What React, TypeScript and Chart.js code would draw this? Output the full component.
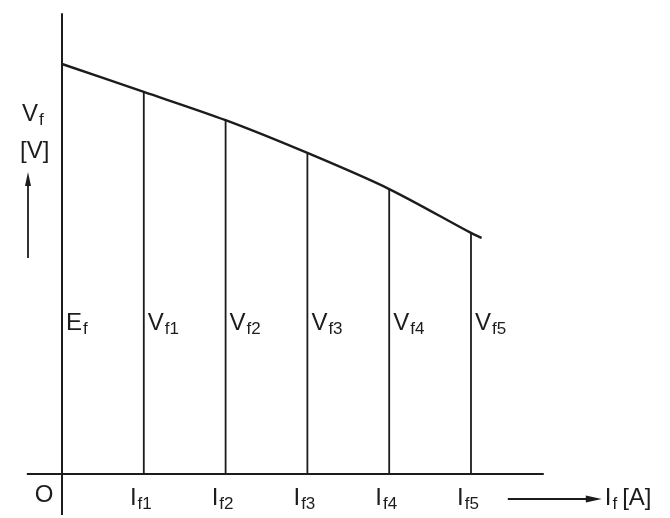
import { useEffect, useRef } from "react";
import { Chart, registerables } from "chart.js";

Chart.register(...registerables);

// Field current steps (0 = no-load point) and the terminal voltage read at each step
const fieldCurrents = [0, 1, 2, 3, 4, 5];
const terminalVoltages = [100, 93.2, 86.3, 78.3, 69.5, 58.8];
// The characteristic runs a little past the last step
const curveTail = { x: 5.13, y: 57.6 };

// Label text split into [main, subscript]
const voltageLabels: [string, string][] = [
  ["E", "f"],
  ["V", "f1"],
  ["V", "f2"],
  ["V", "f3"],
  ["V", "f4"],
  ["V", "f5"],
];
const currentLabels: [string, string][] = [
  ["I", "f1"],
  ["I", "f2"],
  ["I", "f3"],
  ["I", "f4"],
  ["I", "f5"],
];

// Axis extents in data units
const xAxisSpan = [-0.43, 5.89];
const yAxisSpan = [-10.0, 112.4];
const voltageLabelLevel = 35.1;

const INK = "#1c1c1c";
const FONT = "'Liberation Sans', Arial, sans-serif";
const MAIN_SIZE = 24;
const SUB_SIZE = 17;

function drawSubscripted(
  ctx: CanvasRenderingContext2D,
  main: string,
  sub: string,
  x: number,
  baseline: number,
  align: "left" | "center"
) {
  ctx.font = `${MAIN_SIZE}px ${FONT}`;
  const wMain = ctx.measureText(main).width;
  ctx.font = `${SUB_SIZE}px ${FONT}`;
  const wSub = ctx.measureText(sub).width;
  const total = wMain + 1 + wSub;
  const left = align === "left" ? x : x - total / 2;
  ctx.textAlign = "left";
  ctx.textBaseline = "alphabetic";
  ctx.font = `${MAIN_SIZE}px ${FONT}`;
  ctx.fillText(main, left, baseline);
  ctx.font = `${SUB_SIZE}px ${FONT}`;
  ctx.fillText(sub, left + wMain + 1, baseline + 4);
  return left + total;
}

const labelPlugin = {
  id: "diagramLabels",
  afterDatasetsDraw(chart: any) {
    const { ctx, scales } = chart;
    const xs = scales.x;
    const ys = scales.y;
    ctx.save();
    ctx.fillStyle = INK;
    ctx.strokeStyle = INK;

    // Voltage labels beside each ordinate
    const vy = ys.getPixelForValue(voltageLabelLevel);
    fieldCurrents.forEach((c, i) => {
      const px = xs.getPixelForValue(c);
      const [m, s] = voltageLabels[i];
      drawSubscripted(ctx, m, s, px + 4, vy, "left");
    });

    // Current labels under the abscissa
    const baseY = ys.getPixelForValue(0) + 31;
    fieldCurrents.slice(1).forEach((c, i) => {
      const px = xs.getPixelForValue(c);
      const [m, s] = currentLabels[i];
      drawSubscripted(ctx, m, s, px - 3, baseY, "center");
    });

    // Origin
    const ox = xs.getPixelForValue(0);
    ctx.font = `${MAIN_SIZE}px ${FONT}`;
    ctx.textAlign = "center";
    ctx.fillText("O", ox - 18, baseY - 3);

    // Vertical axis caption with upward arrow
    const capX = ox - 40;
    drawSubscripted(ctx, "V", "f", capX, 121, "left");
    ctx.font = `${MAIN_SIZE}px ${FONT}`;
    ctx.textAlign = "left";
    ctx.fillText("[V]", capX - 2, 158);

    ctx.lineWidth = 1.8;
    ctx.beginPath();
    ctx.moveTo(ox - 34, 258);
    ctx.lineTo(ox - 34, 182);
    ctx.stroke();
    ctx.beginPath();
    ctx.moveTo(ox - 34, 172);
    ctx.lineTo(ox - 37, 186);
    ctx.lineTo(ox - 31, 186);
    ctx.closePath();
    ctx.fill();

    // Horizontal axis caption with rightward arrow
    const ay = baseY - 6;
    const arrowStart = xs.getPixelForValue(xAxisSpan[1]) - 36;
    const arrowTip = arrowStart + 94;
    ctx.beginPath();
    ctx.moveTo(arrowStart, ay);
    ctx.lineTo(arrowTip - 12, ay);
    ctx.stroke();
    ctx.beginPath();
    ctx.moveTo(arrowTip, ay);
    ctx.lineTo(arrowTip - 16, ay - 3.5);
    ctx.lineTo(arrowTip - 16, ay + 3.5);
    ctx.closePath();
    ctx.fill();
    const after = drawSubscripted(ctx, "I", "f", arrowTip + 3, baseY, "left");
    ctx.font = `${MAIN_SIZE}px ${FONT}`;
    ctx.textAlign = "left";
    ctx.fillText("[A]", after + 5, baseY);

    ctx.restore();
  },
};

export default function App() {
  const canvasRef = useRef<HTMLCanvasElement | null>(null);

  useEffect(() => {
    const canvas = canvasRef.current;
    if (!canvas) return;

    const curve = fieldCurrents.map((c, i) => ({ x: c, y: terminalVoltages[i] }));
    curve.push(curveTail);

    const ordinates = fieldCurrents.slice(1).map((c, k) => ({
      data: [
        { x: c, y: 0 },
        { x: c, y: terminalVoltages[k + 1] },
      ],
      borderColor: INK,
      borderWidth: 1.8,
      showLine: true,
      pointRadius: 0,
      tension: 0,
    }));

    const chart = new Chart(canvas, {
      type: "scatter",
      data: {
        datasets: [
          {
            data: curve,
            borderColor: INK,
            borderWidth: 2.4,
            showLine: true,
            pointRadius: 0,
            tension: 0.3,
          } as any,
          ...ordinates,
          {
            // ordinate axis
            data: [
              { x: 0, y: yAxisSpan[0] },
              { x: 0, y: yAxisSpan[1] },
            ],
            borderColor: INK,
            borderWidth: 2,
            showLine: true,
            pointRadius: 0,
          },
          {
            // abscissa axis
            data: [
              { x: xAxisSpan[0], y: 0 },
              { x: xAxisSpan[1], y: 0 },
            ],
            borderColor: INK,
            borderWidth: 2,
            showLine: true,
            pointRadius: 0,
          },
        ],
      },
      options: {
        animation: false,
        responsive: true,
        maintainAspectRatio: false,
        layout: { padding: 0 },
        plugins: {
          legend: { display: false },
          tooltip: { enabled: false },
        },
        scales: {
          x: { type: "linear", min: -0.758, max: 7.433, display: false },
          y: { type: "linear", min: -10.73, max: 115.61, display: false },
        },
      },
      plugins: [labelPlugin],
    });

    return () => chart.destroy();
  }, []);

  return (
    <div
      style={{
        position: "fixed",
        left: 0,
        top: 0,
        width: 670,
        height: 518,
        background: "#ffffff",
      }}
    >
      <canvas ref={canvasRef} />
    </div>
  );
}
